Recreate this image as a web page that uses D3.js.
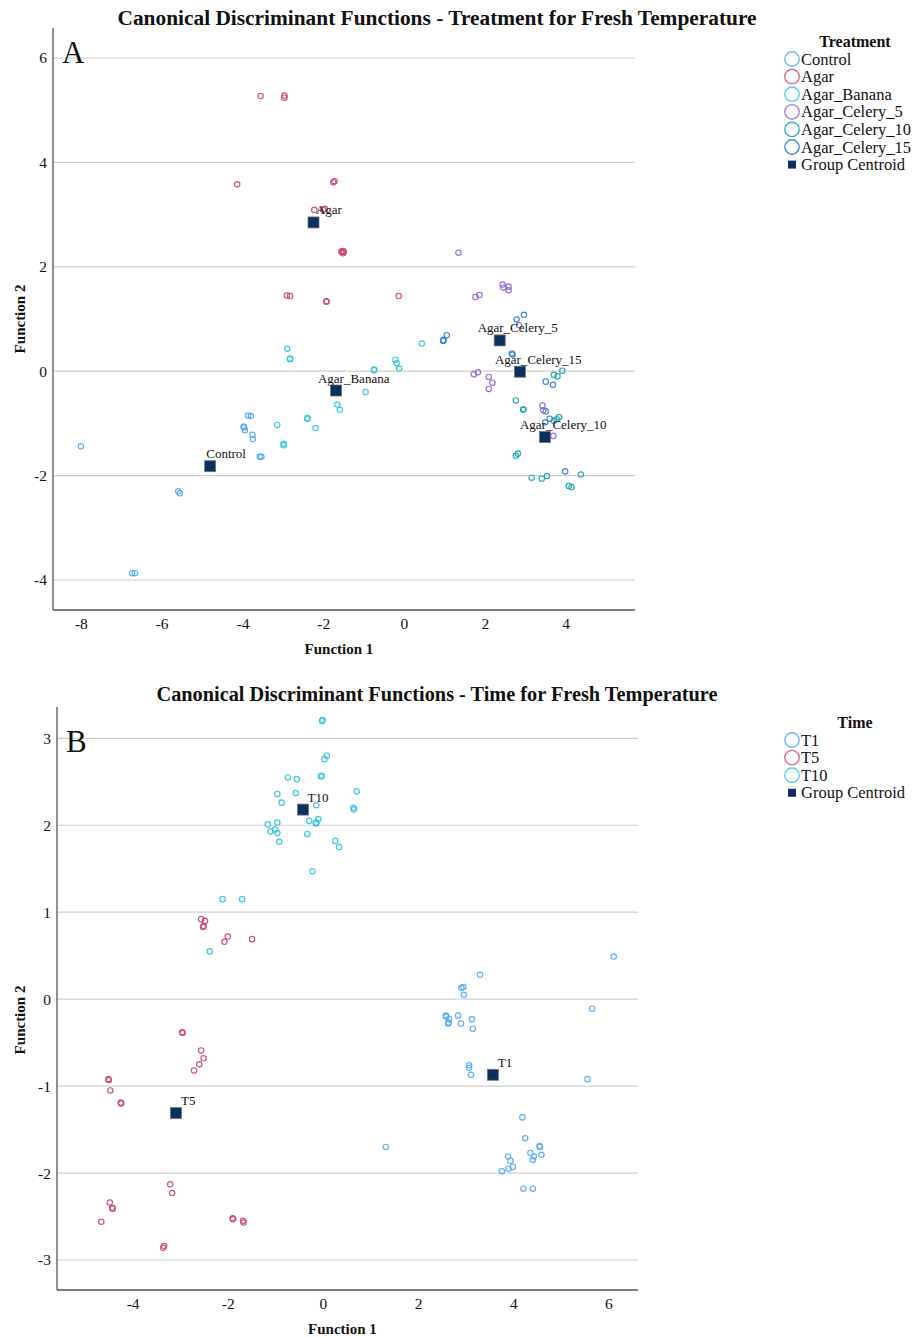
<!DOCTYPE html>
<html>
<head>
<meta charset="utf-8">
<script src="https://cdn.jsdelivr.net/npm/d3@7"></script>
<style>
  body { margin: 0; background: #fff; }
  svg text { font-family: "Liberation Serif", "Times New Roman", serif; fill: #111; }
</style>
</head>
<body>
<svg id="chart" width="919" height="1337"></svg>
<script>
// ---------- DATA (Panel A: Treatment) ----------
const treatmentGroups = ["Control", "Agar", "Agar_Banana", "Agar_Celery_5", "Agar_Celery_10", "Agar_Celery_15"];
const controlPts = [[-8.0,-1.44],[-5.59,-2.30],[-5.55,-2.34],[-6.73,-3.87],[-6.66,-3.87],[-3.86,-0.85],[-3.79,-0.86],[-3.96,-1.08],[-3.94,-1.13],[-3.97,-1.06],[-3.75,-1.22],[-3.74,-1.30],[-3.57,-1.64],[-3.53,-1.64]];
const agarPts = [[-3.55,5.27],[-2.96,5.28],[-2.96,5.24],[-4.13,3.58],[-1.75,3.62],[-1.72,3.64],[-2.22,3.09],[-1.96,3.11],[-2.00,3.09],[-1.52,2.30],[-1.55,2.29],[-1.49,2.29],[-1.51,2.26],[-2.90,1.45],[-2.82,1.44],[-1.92,1.33],[-1.92,1.34],[-0.13,1.44]];
const bananaPts = [[-3.14,-1.03],[-2.98,-1.39],[-2.98,-1.42],[-2.89,0.43],[-2.82,0.23],[-2.82,0.24],[-2.39,-0.91],[-2.39,-0.90],[-2.19,-1.09],[-1.65,-0.64],[-1.59,-0.74],[-0.95,-0.40],[-0.74,0.02],[-0.74,0.03],[-0.21,0.22],[-0.18,0.15],[-0.12,0.05],[0.44,0.53]];
const celery5Pts = [[1.35,2.27],[2.44,1.66],[2.46,1.60],[2.59,1.62],[2.59,1.55],[1.77,1.42],[1.87,1.46],[1.73,-0.06],[1.83,-0.02],[2.10,-0.11],[2.19,-0.22],[2.10,-0.34],[3.43,-0.66],[3.45,-0.75],[3.70,-1.24],[2.85,0.88]];
const celery10Pts = [[2.77,-0.56],[2.95,-0.74],[2.96,-0.73],[2.77,-1.62],[2.82,-1.58],[3.16,-2.04],[3.41,-2.06],[3.54,-2.01],[4.08,-2.20],[4.15,-2.22],[4.38,-1.98],[3.71,-0.07],[3.80,-0.10],[3.92,0.01],[3.84,-0.88],[3.71,-0.95],[3.78,-0.92]];
const celery15Pts = [[2.79,0.99],[2.97,1.08],[0.97,0.58],[0.98,0.60],[1.06,0.69],[2.67,0.34],[2.69,0.32],[3.51,-0.20],[3.69,-0.26],[3.51,-0.77],[3.50,-0.98],[3.61,-0.91],[3.99,-1.92]];
const treatmentCentroids = [[-4.80,-1.82],[-2.24,2.85],[-1.68,-0.37],[2.37,0.59],[3.49,-1.26],[2.87,-0.01]];
const treatmentXTicks = [-8, -6, -4, -2, 0, 2, 4];
const treatmentYTicks = [-4, -2, 0, 2, 4, 6];

// ---------- DATA (Panel B: Time) ----------
const timeGroups = ["T1", "T5", "T10"];
const t1Pts = [[6.11,0.49],[3.30,0.28],[2.91,0.13],[2.95,0.14],[2.96,0.05],[5.66,-0.11],[2.58,-0.19],[2.59,-0.20],[2.65,-0.23],[2.63,-0.28],[2.64,-0.27],[2.84,-0.19],[2.90,-0.28],[3.13,-0.23],[3.15,-0.34],[3.07,-0.76],[3.07,-0.79],[3.11,-0.87],[5.56,-0.92],[4.19,-1.36],[4.25,-1.60],[1.32,-1.70],[4.55,-1.69],[4.56,-1.70],[4.36,-1.77],[4.43,-1.81],[4.41,-1.85],[4.59,-1.79],[3.89,-1.81],[3.94,-1.86],[3.99,-1.93],[3.90,-1.95],[3.76,-1.98],[4.21,-2.18],[4.41,-2.18],[-0.14,2.23]];
const t5Pts = [[-2.56,0.92],[-2.48,0.90],[-2.52,0.83],[-2.51,0.84],[-2.07,0.66],[-2.00,0.72],[-1.49,0.69],[-2.95,-0.39],[-2.96,-0.38],[-2.56,-0.59],[-2.51,-0.68],[-2.60,-0.75],[-2.71,-0.82],[-4.50,-0.93],[-4.51,-0.92],[-4.47,-1.05],[-4.24,-1.20],[-4.25,-1.19],[-3.21,-2.13],[-3.17,-2.23],[-4.48,-2.34],[-4.42,-2.41],[-4.43,-2.40],[-4.66,-2.56],[-1.89,-2.53],[-1.90,-2.52],[-1.67,-2.57],[-1.68,-2.55],[-3.34,-2.84],[-3.36,-2.86]];
const t10Pts = [[-0.02,3.20],[-0.01,3.21],[0.08,2.80],[0.03,2.76],[-0.74,2.55],[-0.55,2.53],[-0.04,2.56],[-0.03,2.57],[-0.96,2.36],[-0.57,2.37],[-0.87,2.26],[0.71,2.39],[0.64,2.20],[0.65,2.18],[-1.16,2.01],[-0.96,2.03],[-1.10,1.93],[-1.01,1.95],[-0.96,1.91],[-0.92,1.81],[-0.33,1.90],[-0.29,2.05],[-0.15,2.02],[-0.14,2.03],[-0.10,2.07],[0.26,1.82],[0.34,1.75],[-0.22,1.47],[-2.11,1.15],[-1.70,1.15],[-2.38,0.55]];
const timeCentroids = [[3.57,-0.87],[-3.09,-1.31],[-0.42,2.18]];
const timeXTicks = [-4, -2, 0, 2, 4, 6];
const timeYTicks = [-3, -2, -1, 0, 1, 2, 3];

// ---------- STYLE ----------
const treatmentColors = ["#4fa9f2", "#c9456f", "#2ec3dd", "#9264cc", "#1ba3ac", "#2f7fd4"];
const treatmentLegendColors = ["#6db8f5", "#d46f89", "#4fd0e2", "#a58ad6", "#3fb3b5", "#4a8bd8"];
const timeColors = ["#4fa9f2", "#c9456f", "#2ec3dd"];
const timeLegendColors = ["#6db8f5", "#d46f89", "#4fd0e2"];
const centroidFill = "#0c2f5e";

const svg = d3.select("#chart");
const fmt = d => String(d); // hyphen-minus, as in the reference

function drawPanel(cfg) {
  const g = svg.append("g");
  const x = d3.scaleLinear().domain(cfg.xDomain).range([cfg.left, cfg.right]);
  const y = d3.scaleLinear().domain(cfg.yDomain).range([cfg.bottom, cfg.top]);

  // gridlines
  g.append("g").selectAll("line").data(cfg.yTicks).join("line")
    .attr("x1", cfg.left).attr("x2", cfg.right)
    .attr("y1", d => y(d)).attr("y2", d => y(d))
    .attr("stroke", "#cfcfcf").attr("stroke-width", 1.2);

  // axes
  const yAxis = d3.axisLeft(y).tickValues(cfg.yTicks).tickSize(0).tickPadding(6).tickFormat(fmt);
  const xAxis = d3.axisBottom(x).tickValues(cfg.xTicks).tickSize(0).tickPadding(8).tickFormat(fmt);
  const ya = g.append("g").attr("transform", `translate(${cfg.left},0)`).call(yAxis);
  const xa = g.append("g").attr("transform", `translate(0,${cfg.bottom})`).call(xAxis);
  [ya, xa].forEach(a => {
    a.select(".domain").attr("stroke", "#555").attr("stroke-width", 1.3);
    a.selectAll("text").attr("font-family", "Liberation Serif, serif").attr("font-size", 15.5).attr("fill", "#111");
  });
  xa.select(".domain").attr("d", `M${cfg.left},0H${cfg.right}`);
  ya.select(".domain").attr("d", `M0,${cfg.top}V${cfg.bottom}`);

  // points
  cfg.series.forEach((pts, i) => {
    g.append("g").selectAll("circle").data(pts).join("circle")
      .attr("cx", d => x(d[0])).attr("cy", d => y(d[1]))
      .attr("r", 2.7).attr("fill", "none")
      .attr("stroke", cfg.colors[i]).attr("stroke-width", 1.2).attr("stroke-opacity", 0.9);
  });

  // centroids
  const cg = g.append("g");
  cfg.centroids.forEach((c, i) => {
    const cx = x(c[0]), cy = y(c[1]);
    cg.append("rect").attr("x", cx - 5.5).attr("y", cy - 5.5).attr("width", 11).attr("height", 11)
      .attr("fill", centroidFill).attr("stroke", "#777").attr("stroke-width", 0.8);
    const t = cg.append("text").attr("y", cy - 8).attr("font-size", 13).attr("fill", "#222").text(cfg.groups[i]);
    const w = t.node().getComputedTextLength();
    t.attr("x", cx + 5 - 0.45 * Math.max(0, w - 20));
  });

  // panel letter
  g.append("text").attr("x", cfg.left + 9).attr("y", cfg.letterY).attr("font-size", 31).text(cfg.letter);

  // title
  g.append("text").attr("x", cfg.titleX).attr("y", cfg.titleY).attr("text-anchor", "middle")
    .attr("font-size", 20).attr("font-weight", "bold")
    .attr("textLength", cfg.titleLen).attr("lengthAdjust", "spacingAndGlyphs").text(cfg.title);

  // axis titles
  g.append("text").attr("x", (cfg.left + cfg.right) / 2 - 5).attr("y", cfg.bottom + 44)
    .attr("text-anchor", "middle").attr("font-size", 15).attr("font-weight", "bold").text("Function 1");
  g.append("text").attr("transform", `translate(25,${cfg.yLabelY}) rotate(-90)`)
    .attr("text-anchor", "middle").attr("font-size", 15).attr("font-weight", "bold").text("Function 2");

  // legend
  const lg = g.append("g");
  lg.append("text").attr("x", 855).attr("y", cfg.legendTop).attr("text-anchor", "middle")
    .attr("font-size", 16).attr("font-weight", "bold").text(cfg.legendTitle);
  const items = cfg.groups.concat(["Group Centroid"]);
  items.forEach((name, i) => {
    const cy = cfg.legendTop + 12 + i * 17.6;
    if (i < cfg.groups.length) {
      lg.append("circle").attr("cx", 792).attr("cy", cy).attr("r", 7.2)
        .attr("fill", "none").attr("stroke", cfg.legendColors[i]).attr("stroke-width", 1.4);
    } else {
      lg.append("rect").attr("x", 788).attr("y", cy - 4).attr("width", 8).attr("height", 8).attr("fill", centroidFill);
    }
    lg.append("text").attr("x", 801).attr("y", cy + 5.5).attr("font-size", 16.5).text(name);
  });
}

drawPanel({
  left: 53, right: 635, top: 28, bottom: 610,
  xDomain: [-8.69, 5.72], yDomain: [-4.575, 6.575],
  xTicks: treatmentXTicks, yTicks: treatmentYTicks,
  series: [controlPts, agarPts, bananaPts, celery5Pts, celery10Pts, celery15Pts],
  colors: treatmentColors, legendColors: treatmentLegendColors,
  groups: treatmentGroups, centroids: treatmentCentroids,
  letter: "A", letterY: 63, yLabelY: 319,
  title: "Canonical Discriminant Functions - Treatment for Fresh Temperature",
  titleX: 437, titleY: 25, titleLen: 639,
  legendTitle: "Treatment", legendTop: 47
});

drawPanel({
  left: 57, right: 638, top: 707, bottom: 1290,
  xDomain: [-5.59, 6.62], yDomain: [-3.345, 3.36],
  xTicks: timeXTicks, yTicks: timeYTicks,
  series: [t1Pts, t5Pts, t10Pts],
  colors: timeColors, legendColors: timeLegendColors,
  groups: timeGroups, centroids: timeCentroids,
  letter: "B", letterY: 752, yLabelY: 1020,
  title: "Canonical Discriminant Functions - Time for Fresh Temperature",
  titleX: 437, titleY: 701, titleLen: 561,
  legendTitle: "Time", legendTop: 728
});
</script>
</body>
</html>
